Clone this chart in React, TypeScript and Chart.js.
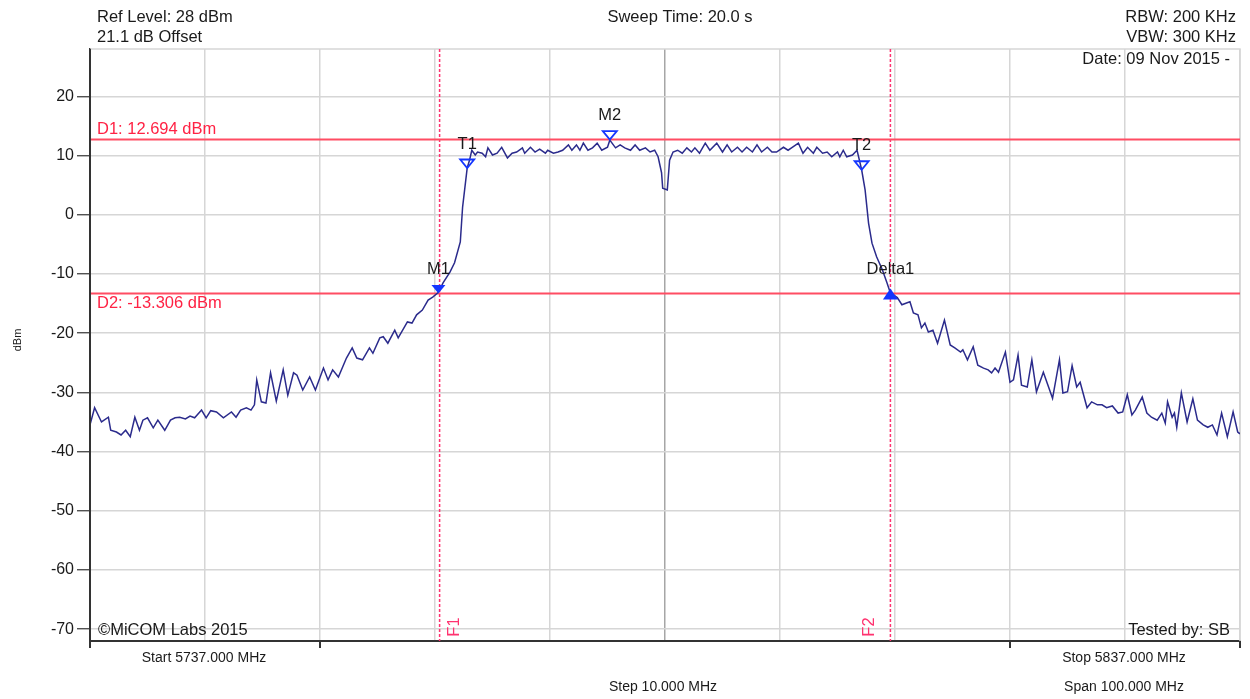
import React, { useEffect, useRef } from "react";
import { Chart, registerables } from "chart.js";

Chart.register(...registerables);

// ---------- data ----------
const startMHz = 5737;
const stopMHz = 5837;

// trace: frequency offset from start (MHz) and level (dBm)
const traceOffsetMHz = [
  0.0, 0.4, 1.0, 1.6, 1.8, 2.3, 2.7, 3.1, 3.5, 3.9,
  4.3, 4.6, 5.0, 5.5, 5.9, 6.5, 7.0, 7.4, 7.8, 8.3,
  8.7, 9.1, 9.7, 10.1, 10.5, 11.0, 11.6, 12.3, 12.7, 13.1,
  13.6, 14.0, 14.3, 14.5, 14.9, 15.3, 15.7, 16.2, 16.8, 17.2,
  17.7, 18.0, 18.5, 19.1, 19.6, 20.3, 20.7, 21.1, 21.6, 22.3,
  22.8, 23.2, 23.7, 24.3, 24.6, 25.2, 25.5, 25.9, 26.5, 26.8,
  27.6, 28.0, 28.4, 28.9, 29.4, 29.8, 30.3, 30.7, 31.3, 31.7,
  32.2, 32.4, 32.8, 33.0, 33.2, 33.5, 33.7, 34.1, 34.4, 34.6,
  35.0, 35.4, 35.8, 36.3, 36.7, 37.1, 37.6, 37.8, 38.3, 38.7,
  39.1, 39.6, 39.8, 40.3, 40.7, 41.1, 41.6, 41.9, 42.3, 42.6,
  42.9, 43.3, 43.7, 44.1, 44.5, 45.0, 45.2, 45.7, 46.1, 46.5,
  47.0, 47.4, 47.8, 48.3, 48.7, 49.1, 49.4, 49.7, 49.8, 50.2,
  50.4, 50.7, 51.1, 51.5, 51.9, 52.3, 52.6, 53.0, 53.5, 53.9,
  54.5, 55.0, 55.4, 55.8, 56.3, 56.7, 57.1, 57.6, 58.0, 58.4,
  58.9, 59.3, 59.7, 60.3, 60.7, 61.0, 61.6, 62.0, 62.4, 62.9,
  63.2, 63.7, 64.1, 64.5, 65.0, 65.2, 65.5, 65.8, 66.3, 66.7,
  67.1, 67.4, 67.7, 68.0, 68.4, 68.9, 69.3, 69.6, 70.2, 70.6,
  71.0, 71.3, 71.6, 72.0, 72.3, 72.6, 72.9, 73.3, 73.7, 74.3,
  74.8, 75.2, 75.7, 75.9, 76.3, 76.8, 77.2, 77.7, 78.1, 78.4,
  78.7, 79.0, 79.6, 80.0, 80.3, 80.7, 81.0, 81.5, 81.9, 82.3,
  82.9, 83.7, 84.3, 84.6, 85.0, 85.4, 85.8, 86.1, 86.7, 87.1,
  87.6, 88.0, 88.4, 88.9, 89.4, 89.8, 90.2, 90.6, 90.9, 91.5,
  91.9, 92.3, 92.8, 93.2, 93.5, 93.7, 94.1, 94.3, 94.5, 94.9,
  95.4, 95.9, 96.3, 96.8, 97.2, 97.6, 98.0, 98.4, 98.9, 99.4,
  99.8, 100.0,
];

const traceLevelDbm = [
  -35.5, -32.6, -35.0, -34.2, -36.4, -36.7, -37.2, -36.4, -37.5, -34.2,
  -36.4, -34.7, -34.3, -36.0, -34.7, -36.4, -34.7, -34.3, -34.2, -34.5,
  -34.0, -34.3, -33.0, -34.3, -33.1, -33.3, -34.3, -33.3, -34.2, -33.0,
  -32.6, -33.0, -32.1, -27.9, -31.6, -31.8, -26.7, -31.5, -26.2, -30.5,
  -26.7, -27.1, -29.6, -27.4, -29.6, -25.9, -27.9, -26.2, -27.4, -24.2,
  -22.5, -24.2, -24.5, -22.5, -23.4, -20.8, -20.6, -21.7, -19.5, -20.8,
  -18.1, -18.3, -16.9, -16.1, -14.4, -13.9, -13.1, -11.5, -9.7, -8.1,
  -4.6, 1.3, 7.9, 9.2, 10.9, 10.1, 10.6, 10.4, 9.8, 11.3,
  10.1, 10.4, 11.4, 9.6, 10.4, 10.6, 11.3, 10.4, 11.4, 10.6,
  11.1, 10.4, 10.9, 10.4, 10.6, 10.9, 11.8, 10.9, 11.8, 10.9,
  12.1, 10.9, 11.3, 12.1, 10.9, 11.4, 12.6, 11.3, 11.8, 11.3,
  10.9, 11.8, 10.9, 11.3, 10.6, 10.9, 9.8, 7.1, 4.5, 4.2,
  9.2, 10.6, 10.9, 10.4, 11.3, 10.6, 11.3, 10.4, 12.1, 10.9,
  12.1, 10.6, 11.8, 10.6, 11.4, 10.6, 11.4, 10.6, 11.8, 10.6,
  11.4, 10.6, 10.6, 11.4, 10.9, 11.3, 12.1, 10.4, 11.4, 10.4,
  11.4, 10.4, 10.6, 9.8, 10.6, 9.8, 10.9, 9.8, 10.1, 10.9,
  7.6, 4.2, -1.4, -4.8, -7.1, -9.3, -11.5, -13.2, -14.0, -15.2,
  -14.9, -14.7, -16.6, -16.9, -19.1, -18.3, -19.8, -19.5, -21.7, -17.8,
  -22.0, -22.5, -23.2, -22.8, -24.5, -22.3, -25.4, -25.9, -26.2, -26.7,
  -25.9, -26.6, -23.2, -28.3, -27.9, -23.7, -28.8, -29.1, -24.5, -29.9,
  -26.6, -31.0, -24.5, -30.1, -29.9, -25.5, -29.1, -28.3, -32.6, -31.6,
  -32.1, -32.1, -32.6, -32.3, -33.5, -33.3, -30.4, -33.8, -33.0, -30.8,
  -33.5, -34.2, -34.7, -33.5, -35.2, -31.6, -34.2, -33.5, -35.9, -30.1,
  -35.0, -31.1, -34.7, -35.5, -35.9, -35.5, -37.2, -33.5, -37.5, -33.3,
  -36.7, -37.0,
];

const yMin = -72;
const yMax = 28;
const yTickValues = [-70, -60, -50, -40, -30, -20, -10, 0, 10, 20];
const xGridMHz = [5737, 5747, 5757, 5767, 5777, 5787, 5797, 5807, 5817, 5827, 5837];
const xAxisTickMHz = [5737, 5757, 5817, 5837];

const displayLineNames = ["D1", "D2"];
const displayLineLevels = [12.694, -13.306];

const freqLineNames = ["F1", "F2"];
const freqLineMHz = [5767.4, 5806.6];

const markerNames = ["M1", "T1", "M2", "T2", "Delta1"];
const markerOffsetMHz = [30.3, 32.8, 45.2, 67.1, 69.6];
const markerLevels = [-13.3, 7.9, 12.694, 7.6, -13.3];
const markerFilled = [true, false, false, false, true];
const markerUp = [false, false, false, false, true];

const headerLeft = ["Ref Level: 28 dBm", "21.1 dB Offset"];
const headerCenter = "Sweep Time: 20.0 s";
const headerRight = ["RBW: 200 KHz", "VBW: 300 KHz", "Date: 09 Nov 2015 -"];
const footerLeft = "©MiCOM Labs 2015";
const footerRight = "Tested by: SB";
const startLabel = `Start ${startMHz.toFixed(3)} MHz`;
const stopLabel = `Stop ${stopMHz.toFixed(3)} MHz`;
const stepLabel = "Step 10.000 MHz";
const spanLabel = `Span ${(stopMHz - startMHz).toFixed(3)} MHz`;
const yTitle = "dBm";

// ---------- styles ----------
const FONT = '"Liberation Sans", Arial, sans-serif';
const TEXT = "#1a1a1a";
const GRID = "#d6d6d6";
const GRID_CENTER = "#a6a6a6";
const AXIS = "#333333";
const TRACE = "#2b2b8c";
const MARKER = "#1436ff";
const DLINE = "#ff4d63";
const DTEXT = "#ff2244";
const FLINE = "#ff3370";
const BIG = 16.5;

const overlayPlugin = {
  id: "analyzerOverlay",
  beforeDatasetsDraw(chart: any) {
    const { ctx, chartArea: a, scales } = chart;
    const xs = scales.x;
    const ys = scales.y;
    ctx.save();
    // top & right frame
    ctx.strokeStyle = GRID;
    ctx.lineWidth = 1.5;
    ctx.beginPath();
    ctx.moveTo(a.left, a.top);
    ctx.lineTo(a.right, a.top);
    ctx.lineTo(a.right, a.bottom);
    ctx.stroke();

    // F lines
    ctx.strokeStyle = FLINE;
    ctx.lineWidth = 1.5;
    ctx.setLineDash([3, 2]);
    freqLineMHz.forEach((f) => {
      const x = xs.getPixelForValue(f);
      ctx.beginPath();
      ctx.moveTo(x, a.top);
      ctx.lineTo(x, a.bottom);
      ctx.stroke();
    });
    ctx.setLineDash([]);

    // D lines
    ctx.strokeStyle = DLINE;
    ctx.lineWidth = 2;
    displayLineLevels.forEach((v) => {
      const y = ys.getPixelForValue(v);
      ctx.beginPath();
      ctx.moveTo(a.left, y);
      ctx.lineTo(a.right, y);
      ctx.stroke();
    });
    ctx.restore();
  },
  afterDatasetsDraw(chart: any) {
    const { ctx, chartArea: a, scales } = chart;
    const xs = scales.x;
    const ys = scales.y;
    ctx.save();
    ctx.font = `${BIG}px ${FONT}`;

    // D labels
    ctx.fillStyle = DTEXT;
    ctx.textAlign = "left";
    ctx.textBaseline = "middle";
    displayLineLevels.forEach((v, i) => {
      const y = ys.getPixelForValue(v);
      const txt = `${displayLineNames[i]}: ${v.toFixed(3)} dBm`;
      ctx.fillText(txt, a.left + 7, i === 0 ? y - 10 : y + 10);
    });

    // F labels (rotated)
    freqLineMHz.forEach((f, i) => {
      const x = xs.getPixelForValue(f);
      ctx.save();
      ctx.translate(i === 0 ? x + 15 : x - 21, a.bottom - 14);
      ctx.rotate(-Math.PI / 2);
      ctx.textAlign = "center";
      ctx.textBaseline = "middle";
      ctx.fillStyle = FLINE;
      ctx.fillText(freqLineNames[i], 0, 0);
      ctx.restore();
    });

    // markers
    markerNames.forEach((name, i) => {
      const x = xs.getPixelForValue(startMHz + markerOffsetMHz[i]);
      const y = ys.getPixelForValue(markerLevels[i]);
      ctx.beginPath();
      if (markerUp[i]) {
        ctx.moveTo(x, y - 5);
        ctx.lineTo(x - 7.5, y + 6);
        ctx.lineTo(x + 7.5, y + 6);
      } else {
        ctx.moveTo(x - 7, y - 8.5);
        ctx.lineTo(x + 7, y - 8.5);
        ctx.lineTo(x, y);
      }
      ctx.closePath();
      if (markerFilled[i]) {
        ctx.fillStyle = MARKER;
        ctx.fill();
      } else {
        ctx.strokeStyle = MARKER;
        ctx.lineWidth = 1.8;
        ctx.stroke();
      }
      ctx.fillStyle = TEXT;
      ctx.textAlign = "center";
      ctx.textBaseline = "middle";
      ctx.fillText(name, x, y - 24);
    });

    // bottom axis ticks
    ctx.strokeStyle = AXIS;
    ctx.lineWidth = 2;
    xAxisTickMHz.forEach((f) => {
      const x = xs.getPixelForValue(f);
      ctx.beginPath();
      ctx.moveTo(x, a.bottom);
      ctx.lineTo(x, a.bottom + 7);
      ctx.stroke();
    });
    ctx.beginPath();
    ctx.moveTo(a.left, a.top);
    ctx.lineTo(a.left, a.bottom + 7);
    ctx.stroke();

    // header / footer texts
    ctx.fillStyle = TEXT;
    ctx.textBaseline = "middle";
    ctx.textAlign = "left";
    ctx.fillText(headerLeft[0], 97, 17);
    ctx.fillText(headerLeft[1], 97, 37);
    ctx.fillText(footerLeft, 98, 630);
    ctx.textAlign = "center";
    ctx.fillText(headerCenter, 680, 17);
    ctx.textAlign = "right";
    ctx.fillText(headerRight[0], 1236, 17);
    ctx.fillText(headerRight[1], 1236, 37);
    ctx.fillText(headerRight[2], 1230, 59);
    ctx.fillText(footerRight, 1230, 630);

    ctx.font = `14px ${FONT}`;
    ctx.textAlign = "center";
    ctx.fillText(startLabel, 204, 658);
    ctx.fillText(stopLabel, 1124, 658);
    ctx.fillText(stepLabel, 663, 687);
    ctx.fillText(spanLabel, 1124, 687);

    // y title
    ctx.save();
    ctx.translate(18, 340);
    ctx.rotate(-Math.PI / 2);
    ctx.font = `11px ${FONT}`;
    ctx.textAlign = "center";
    ctx.textBaseline = "middle";
    ctx.fillText(yTitle, 0, 0);
    ctx.restore();

    ctx.restore();
  },
};

export default function App() {
  const canvasRef = useRef<HTMLCanvasElement | null>(null);

  useEffect(() => {
    document.body.style.margin = "0";
    const canvas = canvasRef.current;
    if (!canvas) return;
    const points = traceOffsetMHz.map((o, i) => ({ x: startMHz + o, y: traceLevelDbm[i] }));
    const chart = new Chart(canvas, {
      type: "line",
      data: {
        datasets: [
          {
            label: "Trace",
            data: points,
            borderColor: TRACE,
            borderWidth: 1.5,
            pointRadius: 0,
            tension: 0,
            fill: false,
          },
        ],
      },
      options: {
        animation: false,
        responsive: false,
        maintainAspectRatio: false,
        devicePixelRatio: 1,
        layout: { padding: { left: 0, right: 10, top: 49, bottom: 58 } },
        plugins: { legend: { display: false }, tooltip: { enabled: false } },
        scales: {
          x: {
            type: "linear",
            min: startMHz,
            max: stopMHz,
            afterBuildTicks: (scale: any) => {
              scale.ticks = xGridMHz.map((v) => ({ value: v }));
            },
            afterFit: (scale: any) => {
              scale.height = 0;
            },
            ticks: { display: false },
            grid: {
              color: (c: any) => (c.tick && c.tick.value === 5787 ? GRID_CENTER : GRID),
              lineWidth: 1.5,
              drawTicks: false,
            },
            border: { display: true, color: AXIS, width: 2 },
          },
          y: {
            type: "linear",
            min: yMin,
            max: yMax,
            afterBuildTicks: (scale: any) => {
              scale.ticks = yTickValues.map((v) => ({ value: v }));
            },
            afterFit: (scale: any) => {
              scale.width = 90;
            },
            ticks: {
              color: TEXT,
              font: { family: FONT, size: 16 },
              padding: 3,
            },
            grid: {
              color: GRID,
              lineWidth: 1.5,
              drawTicks: true,
              tickLength: 13,
              tickColor: AXIS,
              tickWidth: 1.2,
            },
            border: { display: true, color: AXIS, width: 2 },
          },
        },
      },
      plugins: [overlayPlugin],
    });
    return () => chart.destroy();
  }, []);

  return (
    <div style={{ width: 1250, height: 699, background: "#ffffff" }}>
      <canvas ref={canvasRef} width={1250} height={699} style={{ display: "block" }} />
    </div>
  );
}
